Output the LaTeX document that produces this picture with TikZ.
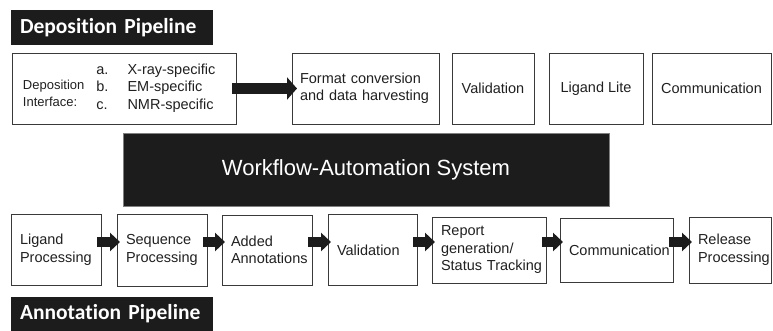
\documentclass[tikz,border=0pt]{standalone}
\usepackage{fontspec}
\setmainfont{Liberation Sans}
\newfontfamily\headfont{Carlito}[Ligatures={NoCommon,NoContextual}]
\usetikzlibrary{arrows.meta,positioning}
\definecolor{PipeBlack}{HTML}{1C1C1C}
\definecolor{PipeLine}{HTML}{3A3A3A}
\definecolor{PipeText}{HTML}{202020}
\hyphenpenalty=10000
\exhyphenpenalty=10000

\begin{document}
\begin{tikzpicture}[
  x=1pt,y=1pt,
  node distance=15pt,
  font=\fontsize{14.5}{17.5}\selectfont,
  every node/.style={text=PipeText},
  stage/.style={draw=PipeLine,line width=0.8pt,minimum width=#1,outer sep=0pt,
    minimum height=71pt,inner ysep=0pt,align=center},
  lstage/.style={stage=#1,inner xsep=9pt,align=left},
  title/.style={fill=PipeBlack,text=white,minimum width=202pt,minimum height=35pt,
    text width=184pt,inner xsep=9pt,align=left,
    font=\headfont\bfseries\fontsize{21.5}{24}\selectfont},
  pass/.style={-{Triangle[length=10pt,width=18pt]},line width=10pt,PipeBlack,
    shorten <=-4pt,shorten >=-3pt}
]
\useasboundingbox (0,0) rectangle (773,-331);

% deposition side
\node[title] (dephead) at (112,-28) {Deposition Pipeline};
\node[stage=224pt,text width=202pt,inner xsep=11pt,align=left] (depif) at (124,-88.5)
  {\raisebox{-6pt}{\fontsize{13}{17}\selectfont
     \begin{tabular}{@{}l@{}}Deposition\\Interface:\end{tabular}}\hspace{12pt}%
   \begin{tabular}{@{}l@{\hspace{19pt}}l@{}}a.&X-ray-specific\\b.&EM-specific\\
     c.&NMR-specific\end{tabular}};
\node[lstage=147pt,text width=131pt,inner xsep=8pt] (fmt) at (365.5,-88.5)
  {Format conversion\\and data harvesting};
\node[stage=82pt,right=13pt of fmt] (dval) {Validation};
\node[stage=94pt,right=of dval] (lite) {Ligand Lite};
\node[stage=119pt,right=9pt of lite] (dcom) {Communication};
\draw[pass,line width=11pt,-{Triangle[length=10pt,width=22pt]},shorten >=-5pt]
  (depif) -- (fmt);

% shared engine
\node[fill=PipeBlack,draw=gray,minimum width=486pt,minimum height=73pt,text=white,
  font=\fontsize{22}{26}\selectfont] (wfa) at (366,-169.5) {Workflow-Automation System};

% annotation side
\node[lstage=90pt,text width=72pt] (lig) at (56,-250) {Ligand\\Processing};
\node[lstage=90pt,text width=72pt,right=16pt of lig,minimum height=72pt] (seq)
  {Sequence\\Processing};
\node[lstage=90pt,text width=72pt,right=of seq,minimum height=70pt] (ann)
  {Added\\Annotations};
\node[lstage=89pt,text width=71pt,right=16pt of ann] (aval) {Validation};
\node[lstage=114pt,text width=96pt,right=of aval,minimum height=66pt] (rep)
  {Report\\generation/\\Status~Tracking};
\node[lstage=113pt,text width=95pt,right=14pt of rep,minimum height=64pt] (acom)
  {Communication};
\node[lstage=82pt,text width=64pt,right=16pt of acom,minimum height=66pt] (rel)
  {Release\\Processing};
\foreach \a/\b in {lig/seq,seq/ann,ann/aval,aval/rep,rep/acom,acom/rel}
  \draw[pass] ([yshift=8pt]\a.east) -- ([yshift=8pt]\b.west);
\node[title,minimum height=34pt] (annhead) at (112,-314) {Annotation Pipeline};
\end{tikzpicture}
\end{document}
